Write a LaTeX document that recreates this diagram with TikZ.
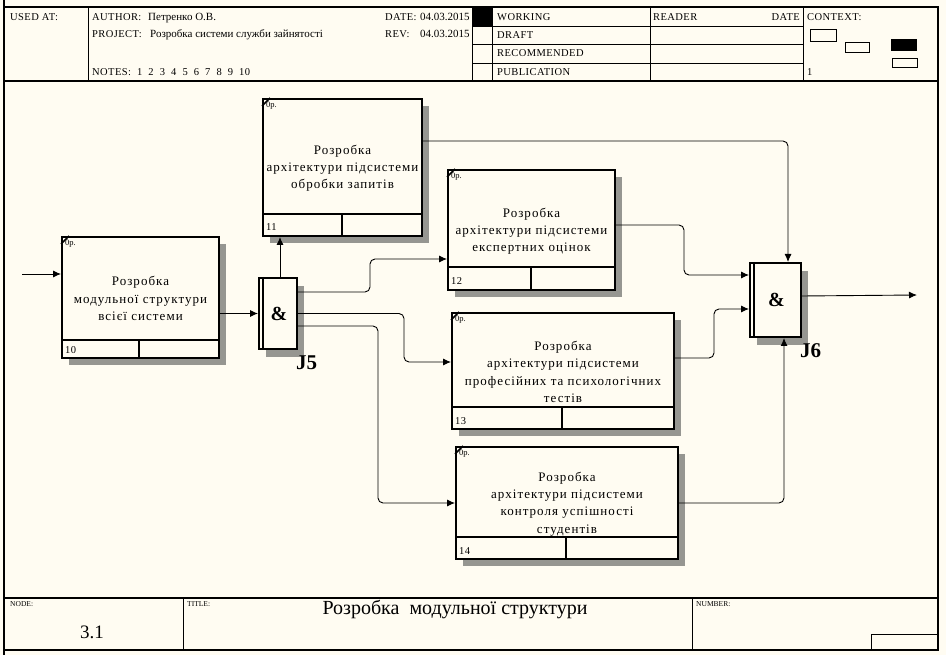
\documentclass[tikz,border=0pt]{standalone}
\usepackage{fontspec}
\setmainfont{Liberation Serif}
\newfontfamily\boxfont[LetterSpace=8]{Liberation Serif}
\newfontfamily\hdrfont[LetterSpace=4]{Liberation Serif}
\usetikzlibrary{arrows.meta,calc}
\definecolor{bg}{RGB}{255,252,242}
\definecolor{shd}{RGB}{150,150,145}
\tikzset{
  frameline/.style={line width=1.1pt},
  thinline/.style={line width=0.8pt},
  boxnode/.style={draw, line width=2pt, fill=bg, inner sep=0pt, anchor=north west},
  boxtext/.style={align=center, font=\boxfont\fontsize{13}{17.2}\selectfont, inner sep=0pt},
  optext/.style={anchor=north west, inner sep=0pt, font=\fontsize{8.5}{9}\selectfont},
  idtext/.style={anchor=base west, inner sep=0pt, font=\hdrfont\fontsize{10.5}{11}\selectfont},
  hdr/.style={anchor=base west, inner sep=0pt, font=\hdrfont\fontsize{10.5}{12}\selectfont},
  hdrval/.style={anchor=base west, inner sep=0pt, font=\fontsize{11}{12}\selectfont},
  tiny/.style={anchor=north west, inner sep=0pt, font=\fontsize{7.5}{8}\selectfont},
  amp/.style={inner sep=0pt, font=\bfseries\fontsize{20}{22}\selectfont},
  jlabel/.style={anchor=base west, inner sep=0pt, font=\bfseries\fontsize{21}{23}\selectfont},
  conn/.style={line width=0.9pt, rounded corners=5pt, -{Latex[length=8pt,width=7pt]}}
}
\newcommand\idefbox[9]{%
  \fill[shd] ({#2+8},{#3+8}) rectangle ({#4+8},{#5+8});
  \node[boxnode, minimum width={(#4-#2)*1pt}, minimum height={(#5-#3)*1pt}] (#1) at (#2,#3) {};
  \draw[line width=2pt] (#2,#6) -- (#4,#6) (#7,#6) -- (#7,#5);
  \draw[line width=1.5pt] (#2,{#3+8}) -- ({#2+8},#3);
  \node[optext] at ({#2+4},{#3+4}) {0р.};
  \node[idtext] at ({#2+4},{#5-4}) {#8};
  \node[boxtext] at ([yshift=-1pt]#1.center) {#9};
}
\newcommand\junc[5]{%
  \fill[shd] ({#2+8},{#3+9}) rectangle ({#4+8},{#5+9});
  \node[boxnode, minimum width={(#4-#2)*1pt}, minimum height={(#5-#3)*1pt}] (#1) at (#2,#3) {};
  \draw[line width=2pt] ({#2+5},#3) -- ({#2+5},#5);
  \node[amp] at ({(#2+#4)/2+2},{(#3+#5)/2+1}) {\&};
}
\begin{document}
\begin{tikzpicture}[x=1pt,y=-1pt]
\useasboundingbox (0,0) rectangle (946,655);
\fill[bg] (0,0) rectangle (946,655);
% frame
\draw[frameline] (4,7) rectangle (938,650);
\draw[frameline] (4,0) -- (4,655);
\draw[frameline] (4,81) -- (938,81);
\draw[frameline] (4,598) -- (938,598);
% header
\draw[thinline] (88,7) -- (88,81) (472,7) -- (472,81) (492,7) -- (492,81)
  (650,7) -- (650,81) (803,7) -- (803,81)
  (472,26) -- (803,26) (472,44) -- (803,44) (472,63) -- (803,63);
\node[hdr] (usedat) at (10,21) {USED AT:};
\node[hdr] (author) at (92,21) {AUTHOR:};
\node[hdrval] (authorv) at (148,21) {Петренко О.В.};
\node[hdr] (project) at (92,38) {PROJECT:};
\node[hdrval] (projectv) at (150,38) {Розробка системи служби зайнятості};
\node[hdr] (notes) at (92,76) {NOTES:\ \ 1\ \ 2\ \ 3\ \ 4\ \ 5\ \ 6\ \ 7\ \ 8\ \ 9\ \ 10};
\node[hdr] (date) at (385,21) {DATE:};
\node[hdrval] (datev) at (420,21) {04.03.2015};
\node[hdr] (rev) at (385,38) {REV:};
\node[hdrval] (revv) at (420,38) {04.03.2015};
\fill[black] (472,7) rectangle (492,26);
\node[hdr] (working) at (497,21) {WORKING};
\node[hdr] (draft) at (497,39) {DRAFT};
\node[hdr] (recommended) at (497,57) {RECOMMENDED};
\node[hdr] (publication) at (497,76) {PUBLICATION};
\node[hdr] (reader) at (653,21) {READER};
\node[hdr, anchor=base east] (rdate) at (800,21) {DATE};
\node[hdr] (context) at (807,21) {CONTEXT:};
\node[hdr] (ctxnum) at (807,76) {1};
\draw[thinline] (810,29) rectangle (836,41);
\draw[thinline] (845,42) rectangle (869,52);
\fill[black] (891,39) rectangle (917,51);
\draw[thinline] (892,58) rectangle (917,67);
% footer
\draw[thinline] (183,598) -- (183,650) (692,598) -- (692,650);
\draw[thinline] (871,650) |- (938,634);
\node[tiny] (nodelbl) at (10,601) {NODE:};
\node[tiny] (titlelbl) at (187,601) {TITLE:};
\node[tiny] (numberlbl) at (696,601) {NUMBER:};
\node[inner sep=0pt, font=\fontsize{19}{21}\selectfont] (nodenum) at (92,632) {3.1};
\node[inner sep=0pt, font=\fontsize{20}{22}\selectfont] (title) at (455,609) {Розробка\ \ модульної структури};
% boxes
\idefbox{b10}{61}{236}{218}{357}{340}{139}{10}{Розробка\\модульної структури\\всієї системи}
\idefbox{b11}{262}{98}{421}{235}{214}{342}{11}{Розробка\\архітектури підсистеми\\обробки запитів}
\idefbox{b12}{447}{169}{614}{289}{267}{531}{12}{Розробка\\архітектури підсистеми\\експертних оцінок}
\idefbox{b13}{451}{312}{673}{428}{407}{562}{13}{Розробка\\архітектури підсистеми\\професійних та психологічних\\тестів}
\idefbox{b14}{455}{446}{677}{558}{537}{566}{14}{Розробка\\архітектури підсистеми\\контроля успішності\\студентів}
% junctions
\junc{j5}{258}{277}{296}{348}
\junc{j6}{749}{262}{800}{336}
\node[jlabel] (j5lbl) at (296,370) {J5};
\node[jlabel] (j6lbl) at (800,357) {J6};
% connectors
\coordinate (in) at (22,274);
\coordinate (out) at (917,295);
\draw[conn] (in) -- (in -| b10.west);
\draw[conn] (b10.east |- j5.west) -- (j5.west);
\draw[conn] ([xshift=2pt]j5.north) -- ([xshift=2pt]j5.north |- b11.south);
\draw[conn] ([yshift=21.5pt]j5.east) -- ++(72,0) |- ([yshift=-29pt]b12.west);
\draw[conn] (j5.east) -- ++(106,0) |- ([yshift=9pt]b13.west);
\draw[conn] ([yshift=-12.5pt]j5.east) -- ++(80,0) |- (b14.west);
\draw[conn] ([yshift=26.5pt]b11.east) -| ([xshift=12.5pt]j6.north);
\draw[conn] ([yshift=5pt]b12.east) -- ++(68,0) |- ([yshift=25pt]j6.west);
\draw[conn] ([yshift=13pt]b13.east) -- ++(39,0) |- ([yshift=-9pt]j6.west);
\draw[conn] (b14.east) -| ([xshift=8.5pt]j6.south);
\draw[conn] ([yshift=4pt]j6.east) -- (out);
\end{tikzpicture}
\end{document}
